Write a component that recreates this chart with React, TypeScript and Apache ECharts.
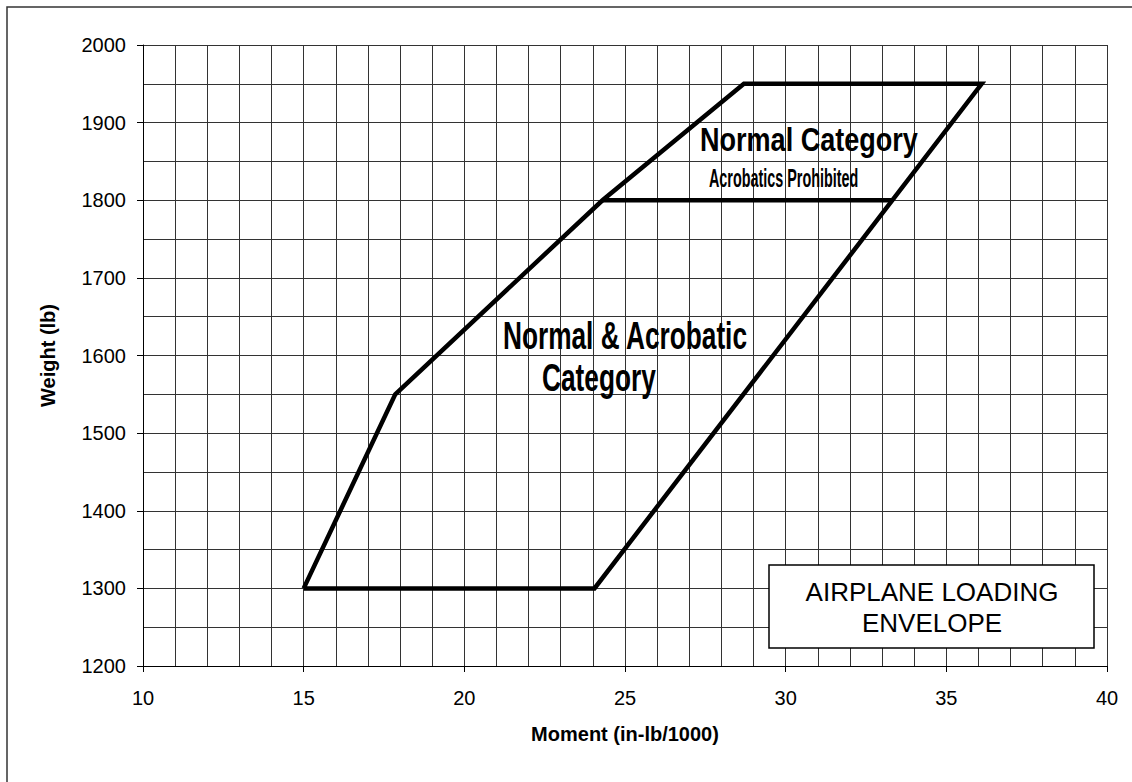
import React, { useEffect, useRef } from "react";
import * as echarts from "echarts";

// Envelope outline (moment in-lb/1000, weight lb)
const envelopeMoment = [15, 17.85, 24.3, 28.7, 36.1, 24.05, 15];
const envelopeWeight = [1300, 1550, 1800, 1950, 1950, 1300, 1300];
// Divider between Normal and Normal & Acrobatic categories
const dividerMoment = [24.3, 33.3];
const dividerWeight = [1800, 1800];

const xTicks = [10, 15, 20, 25, 30, 35, 40];
const yTicks = [1200, 1300, 1400, 1500, 1600, 1700, 1800, 1900, 2000];

const FONT = "'Liberation Sans', Arial, Helvetica, sans-serif";

export default function App() {
  const ref = useRef<HTMLDivElement>(null);
  useEffect(() => {
    if (!ref.current) return;
    const chart = echarts.init(ref.current, undefined, { renderer: "svg" });
    const gridColor = "#333";
    chart.setOption({
      animation: false,
      backgroundColor: "#fff",
      grid: { left: 143, top: 45, right: 25, bottom: 116, containLabel: false },
      xAxis: {
        type: "value",
        min: xTicks[0],
        max: xTicks[xTicks.length - 1],
        interval: 5,
        name: "Moment (in-lb/1000)",
        nameLocation: "middle",
        nameGap: 58,
        nameTextStyle: { fontFamily: FONT, fontWeight: "bold", fontSize: 20, color: "#000" },
        axisLine: { show: true, onZero: false, lineStyle: { color: "#000", width: 1 } },
        axisTick: { show: true, inside: false, length: 6, lineStyle: { color: "#000" } },
        axisLabel: { fontFamily: FONT, fontSize: 20, color: "#000", margin: 22, formatter: (v: number) => String(v) },
        splitLine: { show: true, lineStyle: { color: gridColor, width: 1 } },
        minorTick: { show: false, splitNumber: 5 },
        minorSplitLine: { show: true, lineStyle: { color: gridColor, width: 1 } },
      },
      yAxis: {
        type: "value",
        min: yTicks[0],
        max: yTicks[yTicks.length - 1],
        interval: 100,
        name: "Weight (lb)",
        nameLocation: "middle",
        nameGap: 85,
        nameTextStyle: { fontFamily: FONT, fontWeight: "bold", fontSize: 20, color: "#000" },
        axisLine: { show: true, onZero: false, lineStyle: { color: "#000", width: 1 } },
        axisTick: { show: true, inside: false, length: 6, lineStyle: { color: "#000" } },
        axisLabel: { fontFamily: FONT, fontSize: 20, color: "#000", margin: 17, formatter: (v: number) => String(v) },
        splitLine: { show: true, lineStyle: { color: gridColor, width: 1 } },
        minorTick: { show: false, splitNumber: 2 },
        minorSplitLine: { show: true, lineStyle: { color: gridColor, width: 1 } },
      },
      series: [
        {
          type: "line",
          data: envelopeMoment.map((m, i) => [m, envelopeWeight[i]]),
          symbol: "none",
          lineStyle: { color: "#000", width: 4.5, join: "miter" },
          z: 5,
        },
        {
          type: "line",
          data: dividerMoment.map((m, i) => [m, dividerWeight[i]]),
          symbol: "none",
          lineStyle: { color: "#000", width: 4.5 },
          z: 5,
        },
      ],
      graphic: [
        {
          type: "rect",
          shape: { x: 7, y: 7, width: 1200, height: 900 },
          style: { fill: "none", stroke: "#333", lineWidth: 1.5 },
          z: 100,
        },
        {
          type: "text",
          x: 700,
          y: 139.5,
          scaleX: 0.82,
          style: {
            text: "Normal Category",
            font: `bold 33px ${FONT}`,
            fill: "#000",
            textAlign: "left",
            textVerticalAlign: "middle",
          },
          z: 100,
        },
        {
          type: "text",
          x: 709,
          y: 178.5,
          scaleX: 0.575,
          style: {
            text: "Acrobatics Prohibited",
            font: `bold 25px ${FONT}`,
            fill: "#000",
            textAlign: "left",
            textVerticalAlign: "middle",
          },
          z: 100,
        },
        {
          type: "text",
          x: 503,
          y: 336,
          scaleX: 0.673,
          style: {
            text: "Normal & Acrobatic",
            font: `bold 39px ${FONT}`,
            fill: "#000",
            textAlign: "left",
            textVerticalAlign: "middle",
          },
          z: 100,
        },
        {
          type: "text",
          x: 542,
          y: 378,
          scaleX: 0.673,
          style: {
            text: "Category",
            font: `bold 39px ${FONT}`,
            fill: "#000",
            textAlign: "left",
            textVerticalAlign: "middle",
          },
          z: 100,
        },
        {
          type: "rect",
          shape: { x: 769, y: 565, width: 325, height: 83 },
          style: { fill: "#fff", stroke: "#000", lineWidth: 1.5 },
          z: 100,
        },
        {
          type: "text",
          x: 932,
          y: 592,
          style: {
            text: "AIRPLANE LOADING",
            font: `26px ${FONT}`,
            fill: "#000",
            textAlign: "center",
            textVerticalAlign: "middle",
          },
          z: 101,
        },
        {
          type: "text",
          x: 932,
          y: 622.5,
          style: {
            text: "ENVELOPE",
            font: `26px ${FONT}`,
            fill: "#000",
            textAlign: "center",
            textVerticalAlign: "middle",
          },
          z: 101,
        },
      ],
    });
    return () => chart.dispose();
  }, []);
  return (
    <div
      ref={ref}
      style={{ position: "fixed", left: 0, top: 0, width: 1132, height: 782, background: "#fff" }}
    />
  );
}
